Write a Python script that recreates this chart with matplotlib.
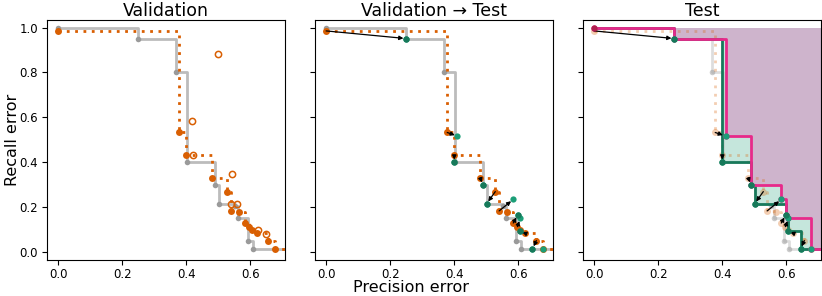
import numpy as np
import matplotlib
matplotlib.use('Agg')
import matplotlib.pyplot as plt

# ---------------- data ----------------
REF_X, REF_Y = 0.0, 1.0
# gray reference front
GRAY_X = [0.000, 0.250, 0.368, 0.401, 0.489, 0.501, 0.552, 0.562, 0.592, 0.609]
GRAY_Y = [1.000, 0.951, 0.800, 0.400, 0.299, 0.216, 0.205, 0.151, 0.050, 0.015]
# validation front (filled orange)
VAL_X = [0.000, 0.378, 0.400, 0.481, 0.528, 0.540, 0.566, 0.584, 0.597, 0.604, 0.622, 0.656, 0.678]
VAL_Y = [0.985, 0.533, 0.432, 0.332, 0.270, 0.184, 0.180, 0.130, 0.114, 0.098, 0.084, 0.052, 0.015]
# dominated validation points (open orange)
DOM_X = [0.500, 0.419, 0.422, 0.543, 0.540, 0.558, 0.624, 0.650]
DOM_Y = [0.884, 0.583, 0.432, 0.350, 0.214, 0.216, 0.098, 0.082]
# selected validation points and their test values
SEL_X = [0.000, 0.378, 0.400, 0.481, 0.528, 0.540, 0.584, 0.597, 0.622, 0.656, 0.678]
SEL_Y = [0.985, 0.533, 0.432, 0.332, 0.270, 0.184, 0.130, 0.114, 0.084, 0.052, 0.015]
TEST_X = [0.250, 0.410, 0.400, 0.489, 0.501, 0.584, 0.598, 0.606, 0.604, 0.644, 0.676]
TEST_Y = [0.951, 0.517, 0.400, 0.299, 0.216, 0.235, 0.166, 0.151, 0.094, 0.015, 0.015]

TITLES = ["Validation", "Validation \u2192 Test", "Test"]
XTICKS = [0.0, 0.2, 0.4, 0.6]
YTICKS = [0.0, 0.2, 0.4, 0.6, 0.8, 1.0]

XLIM = (-0.036, 0.708)
YLIM = (-0.034, 1.033)

GRAY_LINE = '#bcbcbc'
GRAY_PT = '#9a9a9a'
ORANGE = '#d95f02'
GREEN = '#1b9e77'
GREEN_DARK = '#17795a'
PINK = '#e7298a'
PURPLE = (0.52, 0.265, 0.50)


def lower_front(xs, ys):
    pts = sorted(zip(xs, ys), key=lambda p: (p[0], p[1]))
    out, best = [], np.inf
    for x, y in pts:
        if y < best:
            out.append((x, y))
            best = y
    return out


def upper_front(xs, ys):
    pts = sorted(zip(xs, ys), key=lambda p: (-p[0], -p[1]))
    out, best = [], -np.inf
    for x, y in pts:
        if y > best:
            out.append((x, y))
            best = y
    return out[::-1]


def step_eval(px, py, xs):
    idx = np.searchsorted(px, xs, side='right') - 1
    return np.asarray(py)[np.clip(idx, 0, len(py) - 1)]


def draw_step(ax, xs, ys, **kw):
    ax.step(list(xs) + [XLIM[1]], list(ys) + [ys[-1]], where='post', **kw)


def draw_gray(ax, alpha=1.0):
    draw_step(ax, GRAY_X, GRAY_Y, color=GRAY_LINE, lw=2.0, alpha=alpha, zorder=2)
    ax.plot(GRAY_X, GRAY_Y, 'o', color=GRAY_PT, ms=4, alpha=alpha, zorder=3, mew=0)


def draw_orange(ax, alpha=1.0, dominated=True):
    draw_step(ax, VAL_X, VAL_Y, color=ORANGE, lw=2.0, ls=(0, (1, 2)), alpha=alpha, zorder=4)
    ax.plot(VAL_X, VAL_Y, 'o', color=ORANGE, ms=5, mew=0, alpha=alpha, zorder=5)
    if dominated:
        ax.plot(DOM_X, DOM_Y, 'o', mfc='none', mec=ORANGE, ms=4.5, mew=1.1, alpha=alpha, zorder=5)


def draw_arrows(ax):
    for x0, y0, x1, y1 in zip(SEL_X, SEL_Y, TEST_X, TEST_Y):
        if np.hypot(x1 - x0, y1 - y0) < 0.006:
            continue
        ax.annotate('', xy=(x1, y1), xytext=(x0, y0),
                    arrowprops=dict(arrowstyle='-|>', color='black', lw=0.9,
                                    mutation_scale=6, shrinkA=0, shrinkB=2),
                    zorder=8)


def draw_test_points(ax):
    front = lower_front(TEST_X, TEST_Y)
    ax.plot(TEST_X, TEST_Y, 'o', color=GREEN, ms=4.5, mew=0, zorder=9)
    fx, fy = zip(*front)
    ax.plot(fx, fy, 'o', color=GREEN_DARK, ms=4.5, mew=0, zorder=9)


fig, axes = plt.subplots(1, 3, figsize=(8.22, 2.96), dpi=100, sharey=True)
fig.subplots_adjust(left=0.0566, right=0.9988, bottom=0.122, top=0.932, wspace=0.124)

# panel 1
ax = axes[0]
draw_gray(ax)
draw_orange(ax)

# panel 2
ax = axes[1]
draw_gray(ax)
draw_orange(ax, dominated=False)
draw_arrows(ax)
draw_test_points(ax)

# panel 3
ax = axes[2]
draw_gray(ax, alpha=0.5)
draw_orange(ax, alpha=0.3, dominated=False)

low = [(REF_X, REF_Y)] + lower_front(TEST_X, TEST_Y)
up = [(REF_X, REF_Y)] + upper_front(TEST_X, TEST_Y)
lx, ly = map(list, zip(*low))
ux, uy = map(list, zip(*up))
grid = np.array(sorted(set(lx) | set(ux) | {XLIM[1]}))
gl = step_eval(lx, ly, grid)
gu = step_eval(ux, uy, grid)
ax.fill_between(grid, gu, REF_Y, step='post', color=PURPLE, alpha=0.4, lw=0, zorder=1)
ax.fill_between(grid, gl, gu, step='post', color=GREEN, alpha=0.25, lw=0, zorder=1)
draw_step(ax, lx, ly, color=GREEN_DARK, lw=2.0, zorder=6)
draw_step(ax, ux, uy, color=PINK, lw=2.0, zorder=7)
ax.plot(ux, uy, 'o', color=PINK, ms=4.5, mew=0, zorder=7)
draw_arrows(ax)
draw_test_points(ax)
ax.plot([REF_X], [REF_Y], 'o', color='#b0204f', ms=4.5, mew=0, zorder=10)

for i, ax in enumerate(axes):
    ax.set_xlim(*XLIM)
    ax.set_ylim(*YLIM)
    ax.set_xticks(XTICKS)
    ax.set_yticks(YTICKS)
    ax.tick_params(labelsize=8.5, pad=2.5)
    ax.set_title(TITLES[i], fontsize=12.5, pad=3)

fig.text(0.006, 0.527, "Recall error", rotation=90, ha='left', va='center', fontsize=11.5)
fig.text(0.5, 0.004, "Precision error", ha='center', va='bottom', fontsize=11.5)

fig.savefig("out.png", dpi=100)
